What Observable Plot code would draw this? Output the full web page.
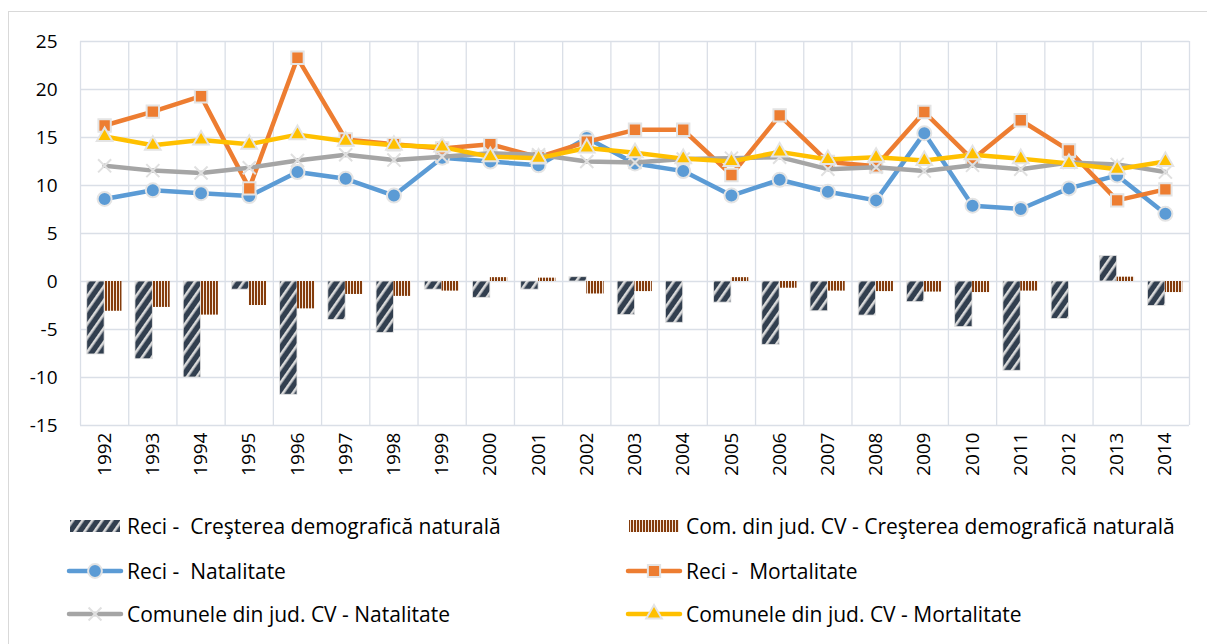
<!DOCTYPE html>
<html><head><meta charset="utf-8">
<script src="https://cdn.jsdelivr.net/npm/d3@7"></script>
<script src="https://cdn.jsdelivr.net/npm/@observablehq/plot@0.6"></script>
<style>
body{margin:0;background:#fff;font-family:"Open Sans",sans-serif;}
#frame{position:absolute;left:8px;top:11px;width:1300px;height:700px;border:1px solid #d9d9d9;box-sizing:border-box;}
#chart{position:absolute;left:0;top:0;}
.item{position:absolute;display:flex;align-items:center;font-size:21px;color:#000;white-space:pre;height:28px;}
.item svg{margin-right:3px;}
</style></head><body>
<svg width="0" height="0" style="position:absolute">
<defs>
<pattern id="hatchDark" patternUnits="userSpaceOnUse" width="8" height="8" patternTransform="rotate(35)">
<rect width="8" height="8" fill="#323f4f"/>
<rect x="0" width="2.6" height="8" fill="#dadada"/>
</pattern>
<pattern id="stripeBrown" patternUnits="userSpaceOnUse" width="3" height="3">
<rect width="3" height="3" fill="#f3e7de"/>
<rect width="2" height="3" fill="#843c0c"/>
</pattern>
</defs>
</svg>
<div id="frame"></div>
<div id="chart"></div>
<div id="legend"></div>
<script>
const years = [1992,1993,1994,1995,1996,1997,1998,1999,2000,2001,2002,2003,2004,2005,2006,2007,2008,2009,2010,2011,2012,2013,2014];
const reciCrest = [-7.6,-8.1,-10.0,-0.85,-11.8,-4.0,-5.35,-0.85,-1.7,-0.85,0.45,-3.5,-4.3,-2.2,-6.6,-3.1,-3.55,-2.15,-4.75,-9.3,-3.9,2.65,-2.55];
const comCrest = [-3.1,-2.7,-3.5,-2.5,-2.85,-1.35,-1.55,-1.0,0.4,0.35,-1.3,-1.05,0,0.4,-0.7,-1.0,-1.05,-1.1,-1.15,-1.0,0,0.45,-1.15];
const reciNat = [8.6,9.5,9.2,8.9,11.4,10.7,8.95,12.9,12.5,12.1,14.95,12.3,11.5,8.95,10.6,9.35,8.45,15.45,7.9,7.55,9.7,11.05,7.05];
const reciMort = [16.25,17.7,19.3,9.7,23.3,14.8,14.3,13.85,14.3,12.95,14.55,15.8,15.8,11.1,17.3,12.45,12.0,17.65,12.7,16.8,13.65,8.45,9.6];
const comNat = [12.05,11.55,11.3,11.85,12.6,13.2,12.65,13.0,13.35,13.2,12.5,12.4,12.75,12.85,12.95,11.7,11.9,11.5,12.1,11.7,12.4,12.2,11.4];
const comMort = [15.1,14.2,14.75,14.3,15.3,14.6,14.2,14.0,13.0,12.85,13.9,13.4,12.8,12.5,13.5,12.7,12.95,12.6,13.2,12.8,12.3,11.7,12.5];
const yTicks = [-15,-10,-5,0,5,10,15,20,25];
const seriesNames = [
  "Reci -  Creşterea demografică naturală",
  "Com. din jud. CV - Creşterea demografică naturală",
  "Reci -  Natalitate",
  "Reci -  Mortalitate",
  "Comunele din jud. CV - Natalitate",
  "Comunele din jud. CV - Mortalitate"
];

const rows = years.map((year, i) => ({year, reciCrest: reciCrest[i], comCrest: comCrest[i], reciNat: reciNat[i], reciMort: reciMort[i], comNat: comNat[i], comMort: comMort[i]}));
const edges = [years[0] - 0.5, ...years.map(y => y + 0.5)];
const half = 0.36;
const grid = "#dadfe7";
const fmt = d => d < 0 ? "-" + Math.abs(d) : String(d);

const lineStyle = {strokeWidth: 4.5, strokeLinejoin: "round", strokeLinecap: "round"};
const mk = "#e4e4e4";

const chart = Plot.plot({
  width: 1207, height: 490,
  marginLeft: 80, marginRight: 18, marginTop: 41, marginBottom: 65,
  style: {fontFamily: '"Open Sans",sans-serif', fontSize: "19px", color: "#000", background: "transparent"},
  x: {domain: [years[0] - 0.5, years[years.length - 1] + 0.5], label: null},
  y: {domain: [-15, 25], label: null},
  marks: [
    Plot.ruleY(yTicks, {stroke: grid, strokeWidth: 1.3}),
    Plot.ruleX(edges, {y1: -15, y2: 25, stroke: grid, strokeWidth: 1.3}),
    Plot.rect(rows, {x1: d => d.year - half, x2: "year", y1: 0, y2: "reciCrest", fill: "url(#hatchDark)", stroke: "#e2e2e2", strokeWidth: 0.8}),
    Plot.rect(rows, {x1: "year", x2: d => d.year + half, y1: 0, y2: "comCrest", fill: "url(#stripeBrown)"}),
    Plot.line(rows, {x: "year", y: "reciNat", stroke: "#5b9bd5", ...lineStyle}),
    Plot.dot(rows, {x: "year", y: "reciNat", symbol: "circle", r: 7, fill: "#5b9bd5", stroke: mk, strokeWidth: 2}),
    Plot.line(rows, {x: "year", y: "reciMort", stroke: "#ed7d31", ...lineStyle}),
    Plot.dot(rows, {x: "year", y: "reciMort", symbol: "square", r: 7, fill: "#ed7d31", stroke: mk, strokeWidth: 2}),
    Plot.line(rows, {x: "year", y: "comNat", stroke: "#a5a5a5", ...lineStyle}),
    Plot.dot(rows, {x: "year", y: "comNat", symbol: "times", r: 6, stroke: "#e0e0e0", strokeWidth: 2}),
    Plot.line(rows, {x: "year", y: "comMort", stroke: "#ffc000", ...lineStyle}),
    Plot.dot(rows, {x: "year", y: "comMort", symbol: "triangle", r: 5.8, fill: "#ffc000", stroke: mk, strokeWidth: 2}),
    Plot.axisX(years, {tickRotate: -90, tickSize: 0, tickPadding: 7, tickFormat: d => String(d), fontSize: 19, label: null}),
    Plot.axisY(yTicks, {tickSize: 0, tickPadding: 23, tickFormat: fmt, fontSize: 19, label: null})
  ]
});
document.getElementById("chart").appendChild(chart);

// Legend
const legend = document.getElementById("legend");
const positions = [[66, 526], [625, 526], [66, 571], [625, 571], [66, 614], [625, 614]];
const kinds = [
  {type: "bar", fill: "url(#hatchDark)"},
  {type: "bar", fill: "url(#stripeBrown)"},
  {type: "line", color: "#5b9bd5", symbol: d3.symbolCircle, size: 150},
  {type: "line", color: "#ed7d31", symbol: d3.symbolSquare, size: 150},
  {type: "line", color: "#a5a5a5", symbol: d3.symbolTimes, size: 110, times: true},
  {type: "line", color: "#ffc000", symbol: d3.symbolTriangle, size: 105}
];
seriesNames.forEach((name, i) => {
  const div = document.createElement("div");
  div.className = "item";
  div.style.left = positions[i][0] + "px";
  div.style.top = (positions[i][1] - 14) + "px";
  const svg = d3.create("svg").attr("width", 58).attr("height", 24);
  const k = kinds[i];
  if (k.type === "bar") {
    svg.append("rect").attr("x", 4).attr("y", 6).attr("width", 50).attr("height", 12).attr("fill", k.fill);
  } else {
    svg.append("line").attr("x1", 3).attr("x2", 55).attr("y1", 12).attr("y2", 12)
      .attr("stroke", k.color).attr("stroke-width", 4.5).attr("stroke-linecap", "round");
    const p = svg.append("path").attr("d", d3.symbol(k.symbol, k.size)()).attr("transform", "translate(29,12)");
    if (k.times) p.attr("fill", "none").attr("stroke", "#e0e0e0").attr("stroke-width", 2);
    else p.attr("fill", k.color).attr("stroke", mk).attr("stroke-width", 2);
  }
  div.appendChild(svg.node());
  const span = document.createElement("span");
  span.textContent = name;
  div.appendChild(span);
  legend.appendChild(div);
});
</script>
</body></html>
